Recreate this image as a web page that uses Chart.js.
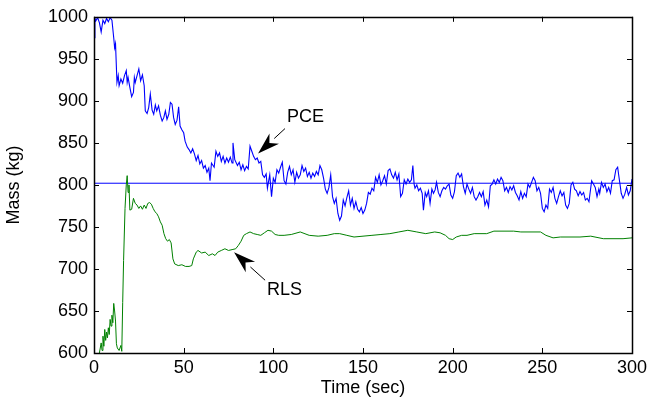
<!DOCTYPE html>
<html>
<head>
<meta charset="utf-8">
<script src="https://cdn.jsdelivr.net/npm/chart.js@4/dist/chart.umd.min.js"></script>
<style>
html,body{margin:0;padding:0;background:#fff;}
#wrap{width:652px;height:400px;}
</style>
</head>
<body>
<div id="wrap"><canvas id="c" width="652" height="400"></canvas></div>
<script>
// ---- data ----
const xTicks = [0, 50, 100, 150, 200, 250, 300];
const yTicks = [600, 650, 700, 750, 800, 850, 900, 950, 1000];

const trueMass = 802;

const pceT = [0,0.5,1,2,3,4,5,6,7,8,9,10,11,11.5,12,12.8,13.5,14,15,16,17,18,18.5,19,20,21,22,22.5,23,24,25,26,27,28,28.6,29.6,30.5,31.4,32.4,33.3,34.2,35,36,37,38,38.9,39.8,40.7,41.7,42.6,43.5,44.4,45.3,46.3,47.2,48,48.9,50,50.8,52,53,54,55,56,57,58,59,60,61,62,63,64,64.7,65.5,67,68,69,70,71,72,73,74,75,76,77,77.5,78.5,80,81,82,83,84,85,86,87,88,89,90,91,92,93,94,95,96,96.7,97.5,98,99,100,101,102,103,104,105,106,107,108,109,110,111,112,113,114,115,116,117,118,119,120,121,122,123,124,125,126,127,128,129,130,131,132,133,134,135,136,137,138,139,140,141,142,143,144,145,146,147,148,149,150,151,152,153,154,155,156,157,158,159,160,161,162,163,164,165,166,167,168,169,170,171,172,173,174,175,176,177,177.8,178.5,179,180,181,182,183,183.7,184.7,185.5,186.5,187.4,188.4,189.3,190.2,191,192,193,194,195,196,197,198,199,200,201,202,203,204,205,206,207,208,209,210,211,212,213,214,215,216,217,218,219,220,221,222,223,224,225,226,227,228,229,230,231,232,233,234,235,236,237,238,239,240,241,242,243,244,245,246,247,248,249,250,251,252,253,254,255,256,257,258,259,260,261,262,263,264,265,266,267,268,269,270,271,272,273,274,275,276,277.5,278.5,279.5,280.5,281.5,282,283,284,285,286,287,288,289,290,291,292,292.5,293.3,294,295,296,297,298,299,300];
const pceV = [975,998,995,999,993,982,996,992,998,994,999,996,975,963,968,922,930,918,926,921,930,936,922,928,916,905,910,928,922,930,938,924,931,918,888,885,892,908,889,884,895,888,894,883,876,880,888,878,884,898,896,880,872,877,893,870,866,862,852,845,842,838,843,837,829,835,825,829,820,823,815,820,805,826,821,840,834,838,828,834,826,832,827,833,826,850,830,823,827,818,824,817,822,819,846,840,834,830,832,826,828,812,809,813,796,806,812,786,808,803,818,814,821,827,805,801,815,822,812,818,803,815,808,812,823,816,820,810,815,808,814,810,816,812,823,818,808,795,790,797,812,786,778,784,766,758,763,782,775,785,793,776,784,772,780,771,768,773,766,770,778,791,789,796,793,809,803,812,800,805,811,801,817,819,812,808,815,806,813,786,790,806,801,807,803,806,823,801,796,800,793,796,790,770,791,786,793,778,795,790,794,803,791,786,793,797,795,799,801,788,784,792,811,814,809,813,798,790,801,795,790,797,786,782,786,791,786,792,776,782,774,799,801,806,801,807,803,809,805,793,797,791,798,794,799,791,787,782,792,784,790,786,801,797,803,809,805,793,797,790,772,768,776,772,795,791,797,784,778,786,793,787,791,776,772,778,800,803,795,793,787,792,788,791,782,784,780,805,801,797,786,795,790,803,797,801,792,797,790,805,806,818,821,813,801,790,784,789,797,788,793,807];

const rlsT = [3,4,4.5,5,5.5,6,6.5,7,7.5,8,8.5,9,9.5,10,10.5,11,11.5,12,12.5,13,14,15,15.5,16,16.5,17.3,18,18.5,19,19.5,20,21,22,23,24,25,26,27,28,29,30,31,32,33,34,35,36,37,38,39,40,41,42,43,44,45,47,49,51,53,54.5,55.4,57,58,60,62,64,66,67.5,69,71,73,75,77,79,80.5,82,83.5,85,87,89,91,93,95,97,99,101,103,106,110,115,120,125,130,134,137,141,145,150,155,160,165,170,175,180,185,190,193,196,198,200,202,205,208,212,219,223,234,238,249,252,256,260,271,277,284,295,300];
const rlsV = [600,612,603,620,608,628,615,625,618,630,622,640,632,645,636,659,650,638,611,606,603,609,602,660,710,772,800,811,791,800,770,771,784,778,776,772,775,771,776,772,778,779,777,772,768,766,762,756,752,742,736,733,735,731,712,706,704,705,703,703,704,712,720,722,719,720,716,718,716,720,722,724,722,723,724,728,733,740,742,744,742,741,740,743,746,745,741,740,740,741,744,740,739,740,742,742,740,738,739,740,741,742,744,746,744,742,744,743,740,736,735,738,740,740,742,742,745,745,744,744,740,737,738,738,739,736,736,737];

// annotation anchors in data units [t, mass]
const pceLabel = {text: "PCE", at: [107.6, 880.7], tail: [106.5, 867], tip: [91.5, 837.4]};
const rlsLabel = {text: "RLS", at: [96.5, 674.8], tail: [95.4, 686.6], tip: [78.1, 719.9]};

const FONT = "'Liberation Sans', Arial, Helvetica, sans-serif";

function pts(t, v) { return t.map((x, i) => ({x: x, y: v[i]})); }

const framePlugin = {
  id: 'frame',
  afterDraw(chart) {
    const ctx = chart.ctx, a = chart.chartArea;
    const xs = chart.scales.x, ys = chart.scales.y;
    ctx.save();
    ctx.strokeStyle = '#000';
    ctx.lineWidth = 1;
    const L = 5;
    ctx.beginPath();
    xTicks.forEach(t => {
      const px = Math.round(xs.getPixelForValue(t)) + 0.5;
      ctx.moveTo(px, a.bottom); ctx.lineTo(px, a.bottom - L);
      ctx.moveTo(px, a.top); ctx.lineTo(px, a.top + L);
    });
    yTicks.forEach(v => {
      const py = Math.round(ys.getPixelForValue(v)) + 0.5;
      ctx.moveTo(a.left, py); ctx.lineTo(a.left + L, py);
      ctx.moveTo(a.right, py); ctx.lineTo(a.right - L, py);
    });
    ctx.stroke();
    ctx.lineWidth = 1.5;
    ctx.strokeRect(Math.round(a.left) + 0.5, Math.round(a.top) + 0.5, Math.round(a.right - a.left), Math.round(a.bottom - a.top));

    // annotations
    function arrow(lbl) {
      const tx = xs.getPixelForValue(lbl.tail[0]), ty = ys.getPixelForValue(lbl.tail[1]);
      const hx = xs.getPixelForValue(lbl.tip[0]), hy = ys.getPixelForValue(lbl.tip[1]);
      const ang = Math.atan2(hy - ty, hx - tx);
      const hl = 22, hw = 7;
      const bx = hx - hl * Math.cos(ang), by = hy - hl * Math.sin(ang);
      ctx.lineWidth = 1;
      ctx.beginPath();
      ctx.moveTo(tx, ty); ctx.lineTo(bx, by);
      ctx.stroke();
      ctx.fillStyle = '#000';
      ctx.beginPath();
      ctx.moveTo(hx, hy);
      ctx.lineTo(bx + hw * Math.sin(ang), by - hw * Math.cos(ang));
      ctx.lineTo(hx - 0.7 * hl * Math.cos(ang), hy - 0.7 * hl * Math.sin(ang));
      ctx.lineTo(bx - hw * Math.sin(ang), by + hw * Math.cos(ang));
      ctx.closePath();
      ctx.fill();
      ctx.font = '18px ' + FONT;
      ctx.textBaseline = 'middle';
      ctx.textAlign = 'left';
      ctx.fillText(lbl.text, xs.getPixelForValue(lbl.at[0]), ys.getPixelForValue(lbl.at[1]));
    }
    arrow(pceLabel);
    arrow(rlsLabel);
    ctx.restore();
  }
};

new Chart(document.getElementById('c'), {
  type: 'line',
  data: {
    datasets: [
      {label: 'PCE', data: pts(pceT, pceV), borderColor: '#0000ff', borderWidth: 1.1, pointRadius: 0, tension: 0, fill: false},
      {label: 'RLS', data: pts(rlsT, rlsV), borderColor: '#008000', borderWidth: 1, pointRadius: 0, tension: 0, fill: false},
      {label: 'True', data: [{x: 0, y: trueMass}, {x: 300, y: trueMass}], borderColor: '#0000ff', borderWidth: 1, pointRadius: 0, fill: false}
    ]
  },
  options: {
    responsive: false,
    animation: false,
    devicePixelRatio: 1,
    layout: {padding: {top: 16, right: 20, left: 0, bottom: 0}},
    plugins: {legend: {display: false}, tooltip: {enabled: false}},
    scales: {
      x: {
        type: 'linear', min: 0, max: 300,
        afterBuildTicks(s) { s.ticks = xTicks.map(v => ({value: v})); },
        afterFit(s) { s.height = 47; },
        grid: {display: false, drawTicks: false},
        border: {display: false},
        ticks: {color: '#000', font: {family: FONT, size: 18}, padding: 4, maxRotation: 0, autoSkip: false, callback: v => String(v)},
        title: {display: true, text: 'Time (sec)', color: '#000', font: {family: FONT, size: 18}, padding: {top: 0, bottom: 1}}
      },
      y: {
        type: 'linear', min: 600, max: 1000,
        afterBuildTicks(s) { s.ticks = yTicks.map(v => ({value: v})); },
        afterFit(s) { s.width = 94; },
        grid: {display: false, drawTicks: false},
        border: {display: false},
        ticks: {color: '#000', font: {family: FONT, size: 18}, padding: 6, autoSkip: false, callback: v => String(v)},
        title: {display: true, text: 'Mass (kg)', color: '#000', font: {family: FONT, size: 18}, padding: {top: 3, bottom: 0}}
      }
    }
  },
  plugins: [framePlugin]
});
</script>
</body>
</html>
